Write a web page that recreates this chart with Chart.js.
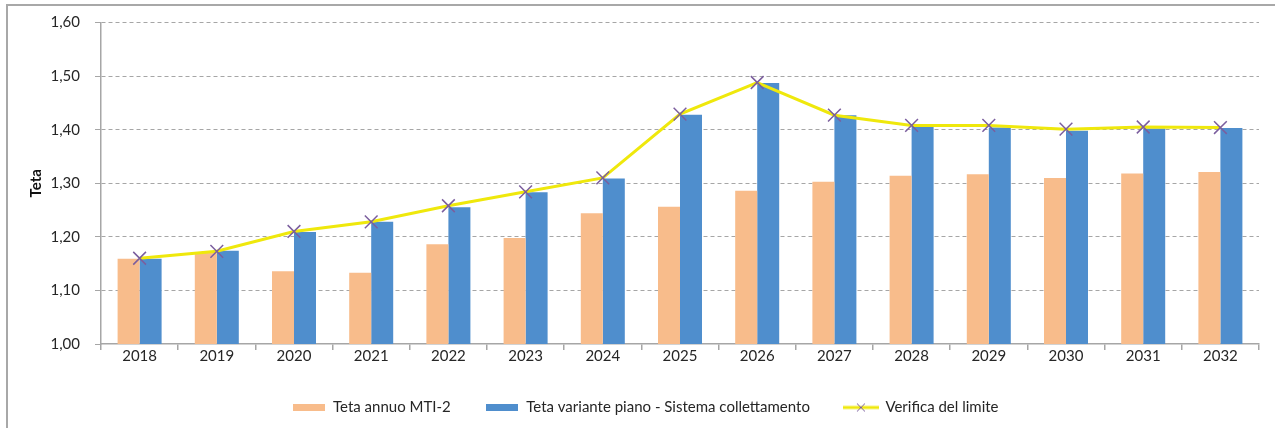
<!DOCTYPE html>
<html>
<head>
<meta charset="utf-8">
<script src="https://cdn.jsdelivr.net/npm/chart.js@4"></script>
<style>
  html, body { margin: 0; padding: 0; background: #fff; overflow: hidden; }
  #frame { position: absolute; left: 6px; top: 4px; width: 1300px; height: 500px; border: 2px solid #a8a8a8; box-sizing: border-box; }
  #wrap { position: absolute; left: 0; top: 0; width: 1275px; height: 428px; }
</style>
</head>
<body>
<div id="frame"></div>
<div id="wrap"><canvas id="chart" width="1275" height="428"></canvas></div>
<script>
const years = ["2018", "2019", "2020", "2021", "2022", "2023", "2024", "2025",
               "2026", "2027", "2028", "2029", "2030", "2031", "2032"];
const tetaMti = [1.159, 1.170, 1.136, 1.133, 1.186, 1.198, 1.244, 1.256,
                 1.286, 1.303, 1.314, 1.317, 1.310, 1.318, 1.321];
const tetaVariante = [1.159, 1.174, 1.209, 1.228, 1.255, 1.283, 1.309, 1.428,
                      1.487, 1.427, 1.405, 1.404, 1.398, 1.402, 1.403];
const verificaLimite = [1.160, 1.173, 1.210, 1.228, 1.258, 1.284, 1.310, 1.429,
                        1.488, 1.427, 1.408, 1.408, 1.401, 1.405, 1.404];
const yMin = 1.0, yMax = 1.6, yStep = 0.1;

const orange = "#f8bc8b";
const blue = "#4f8ecd";
const yellow = "#efe80c";
const purple = "#7b5e9e";
const gridGray = "#a6a6a6";
const textColor = "#262626";
const font = "Lato, 'Liberation Sans', sans-serif";

// legend icons, drawn like the excel ones
function swatch(color) {
  const c = document.createElement("canvas");
  c.width = 32; c.height = 7;
  const g = c.getContext("2d");
  g.fillStyle = color;
  g.fillRect(0, 0, 32, 7);
  return c;
}
function lineSwatch() {
  const c = document.createElement("canvas");
  c.width = 36; c.height = 12;
  const g = c.getContext("2d");
  g.strokeStyle = yellow; g.lineWidth = 3;
  g.beginPath(); g.moveTo(0, 6); g.lineTo(36, 6); g.stroke();
  g.strokeStyle = purple; g.lineWidth = 1;
  g.beginPath();
  g.moveTo(14, 2); g.lineTo(22, 10);
  g.moveTo(22, 2); g.lineTo(14, 10);
  g.stroke();
  return c;
}
const legendIcons = [swatch(orange), swatch(blue), lineSwatch()];

const ctx = document.getElementById("chart").getContext("2d");
const chart = new Chart(ctx, {
  type: "bar",
  data: {
    labels: years,
    datasets: [
      {
        label: "Teta annuo MTI-2",
        data: tetaMti,
        backgroundColor: orange,
        order: 1
      },
      {
        label: "Teta variante piano - Sistema collettamento",
        data: tetaVariante,
        backgroundColor: blue,
        order: 1
      },
      {
        type: "line",
        label: "Verifica del limite",
        data: verificaLimite,
        borderColor: yellow,
        borderWidth: 3,
        tension: 0,
        pointStyle: "crossRot",
        pointRadius: 9,
        pointBorderColor: purple,
        pointBorderWidth: 1.5,
        pointBackgroundColor: purple,
        order: 0
      }
    ]
  },
  options: {
    responsive: false,
    animation: false,
    layout: { padding: { left: 31, right: 16, top: 20, bottom: 3 } },
    datasets: {
      bar: { barPercentage: 1.0, categoryPercentage: 0.57 }
    },
    plugins: {
      legend: {
        position: "bottom",
        labels: {
          usePointStyle: true,
          pointStyleWidth: 34,
          boxHeight: 7,
          padding: 34,
          color: textColor,
          font: { family: font, size: 15 },
          sort: (a, b) => a.datasetIndex - b.datasetIndex,
          generateLabels(chart) {
            const items = Chart.defaults.plugins.legend.labels.generateLabels(chart);
            items.forEach(it => { it.pointStyle = legendIcons[it.datasetIndex]; });
            return items;
          }
        }
      },
      tooltip: { enabled: false }
    },
    scales: {
      x: {
        afterFit(scale) { scale.height = 22; },
        grid: {
          offset: true,
          drawOnChartArea: false,
          drawTicks: true,
          tickLength: 6,
          color: gridGray,
          lineWidth: 1.5
        },
        border: { color: gridGray, width: 1.5 },
        ticks: {
          padding: -3,
          color: textColor,
          font: { family: font, size: 15 }
        }
      },
      y: {
        min: yMin,
        max: yMax,
        afterFit(scale) { scale.width = 70; },
        grid: {
          color: c => (c.tick && c.tick.value === yMin) ? "rgba(0,0,0,0)" : gridGray,
          tickColor: gridGray,
          lineWidth: 1,
          tickLength: 6
        },
        // in v4 the grid line dash comes from border.dash
        border: { color: gridGray, width: 1.5, dash: [4, 3] },
        ticks: {
          stepSize: yStep,
          padding: 15,
          color: textColor,
          font: { family: font, size: 15, lineHeight: 1 },
          callback: v => v.toFixed(2).replace(".", ",")
        },
        title: {
          display: true,
          text: "Teta",
          color: "#111",
          padding: { top: -4, bottom: 0 },
          font: { family: font, size: 15, weight: "bold" }
        }
      }
    }
  }
});
</script>
</body>
</html>
